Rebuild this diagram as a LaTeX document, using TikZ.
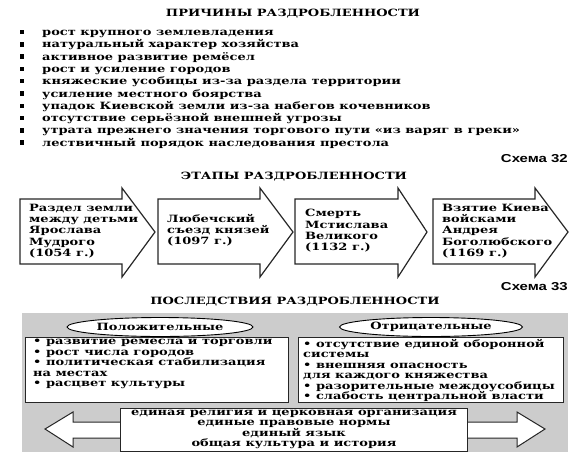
\documentclass[tikz,border=0pt]{standalone}
\usepackage{fontspec}
\usetikzlibrary{shapes.geometric}
\newfontfamily\rsfont[FakeStretch=1.3]{DejaVu Serif}
\newfontfamily\schfont[FakeStretch=1.3]{Liberation Sans}
\definecolor{bggray}{gray}{0.80}
\tikzset{
  ttl/.style={font=\rsfont\bfseries\fontsize{10}{12}\selectfont, anchor=base, inner sep=0},
  sch/.style={font=\schfont\bfseries\fontsize{11.5}{13}\selectfont, anchor=base east, inner sep=0},
  itm/.style={font=\rsfont\bfseries\fontsize{10}{12}\selectfont, anchor=base west, inner sep=0},
  sq/.style={fill=black, minimum size=4.5pt, inner sep=0, anchor=center},
  arr/.style={draw=black!85, line width=1.2pt, fill=white, line join=miter},
  arrtxt/.style={font=\rsfont\bfseries\fontsize{10}{11.3}\selectfont, align=left, anchor=west, inner sep=0},
  boxtxt/.style={font=\rsfont\bfseries\fontsize{10}{10.5}\selectfont, align=left, anchor=north west, inner sep=0},
  oval/.style={ellipse, draw=black, line width=0.9pt, fill=white, inner sep=0,
    font=\rsfont\bfseries\fontsize{10}{12}\selectfont},
  wbox/.style={draw=black!85, line width=1pt, fill=white},
}
\begin{document}
\begin{tikzpicture}[x=1pt,y=-1pt]
\useasboundingbox (0,0) rectangle (586,464);
% ---- Schema 32
\node[ttl] (t1) at (293,16) {ПРИЧИНЫ РАЗДРОБЛЕННОСТИ};
\foreach \i/\t in {0/{рост крупного землевладения},
  1/{натуральный характер хозяйства},
  2/{активное развитие ремёсел},
  3/{рост и усиление городов},
  4/{княжеские усобицы из-за раздела территории},
  5/{усиление местного боярства},
  6/{упадок Киевской земли из-за набегов кочевников},
  7/{отсутствие серьёзной внешней угрозы},
  8/{утрата прежнего значения торгового пути «из варяг в греки»},
  9/{лествичный порядок наследования престола}}{
  \node[sq] (q\i) at (22,{32+12.3*\i}) {};
  \node[itm] (b\i) at (42,{35.5+12.3*\i}) {\t};
}
\node[sch] (s32) at (568,162) {Схема 32};
% ---- Schema 33
\node[ttl] (t2) at (294,179) {ЭТАПЫ РАЗДРОБЛЕННОСТИ};
\foreach \k/\a/\b/\c in {1/20/122/155, 2/158/260/293, 3/295/398/427, 4/433/535/568}{
  \draw[arr] (\a,199) -- (\b,199) -- (\b,188) -- (\c,232) -- (\b,277) -- (\b,264) -- (\a,264) -- cycle;
}
\node[arrtxt] (a1) at (29,231) {Раздел земли\\между детьми\\Ярослава\\Мудрого\\(1054 г.)};
\node[arrtxt] (a2) at (167,230) {Любечский\\съезд князей\\(1097 г.)};
\node[arrtxt] (a3) at (305,231) {Смерть\\Мстислава\\Великого\\(1132 г.)};
\node[arrtxt] (a4) at (442,231) {Взятие Киева\\войсками\\Андрея\\Боголюбского\\(1169 г.)};
\node[sch] (s33) at (568,290) {Схема 33};
% ---- Schema 34
\node[ttl] (t3) at (295,304) {ПОСЛЕДСТВИЯ РАЗДРОБЛЕННОСТИ};
\fill[bggray] (22,313) rectangle (568,452);
\draw[wbox] (25,337) rectangle (288,402);
\draw[wbox] (298,337) rectangle (563,402);
\node[oval, minimum width=186pt, minimum height=19pt] (pos) at (160,327) {Положительные};
\node[oval, minimum width=183pt, minimum height=19pt] (neg) at (431,327) {Отрицательные};
\node[boxtxt] (pl) at (33,339) {• развитие ремесла и торговли\\• рост числа городов\\• политическая стабилизация\\на местах\\• расцвет культуры};
\node[boxtxt] (nl) at (303,339) {• отсутствие единой оборонной\\системы\\• внешняя опасность\\для каждого княжества\\• разорительные междоусобицы\\• слабость центральной власти};
\draw[arr, line width=1pt] (45,429) -- (73,412) -- (73,422) -- (517,422) -- (517,412) -- (545,429) -- (517,447) -- (517,438) -- (73,438) -- (73,447) -- cycle;
\draw[wbox] (120,408) rectangle (467,451);
\node[font=\rsfont\bfseries\fontsize{10}{9.6}\selectfont, align=center, inner sep=0] (mid) at (294,429.5) {единая религия и церковная организация\\единые правовые нормы\\единый язык\\общая культура и история};
\end{tikzpicture}
\end{document}
